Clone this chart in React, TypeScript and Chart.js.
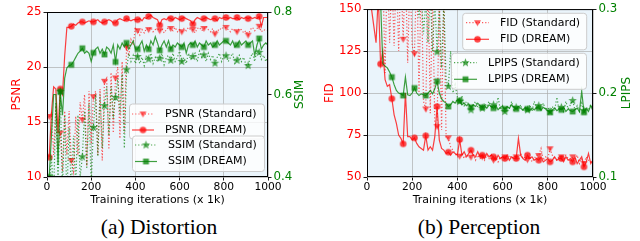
import React, { useEffect, useRef } from "react";
import { Chart, registerables } from "chart.js";

Chart.register(...registerables);

// ---------------- data ----------------
const iterations = [
  10, 20, 30, 40, 50, 60, 70, 80, 90, 100,
  110, 120, 130, 140, 150, 160, 170, 180, 190, 200,
  210, 220, 230, 240, 250, 260, 270, 280, 290, 300,
  310, 320, 330, 340, 350, 360, 370, 380, 390, 400,
  410, 420, 430, 440, 450, 460, 470, 480, 490, 500,
  510, 520, 530, 540, 550, 560, 570, 580, 590, 600,
  610, 620, 630, 640, 650, 660, 670, 680, 690, 700,
  710, 720, 730, 740, 750, 760, 770, 780, 790, 800,
  810, 820, 830, 840, 850, 860, 870, 880, 890, 900,
  910, 920, 930, 940, 950, 960, 970, 980, 990, 1000,
];

const psnrStandard = [
  15.5, 15.8, 12.0, 16.5, 12.5, 14.0, 10.5, 16.0, 12.0, 16.0,
  11.5, 10.5, 15.5, 12.0, 16.8, 15.2, 17.5, 11.0, 17.8, 13.0,
  17.3, 17.8, 12.0, 18.0, 11.5, 18.7, 19.0, 12.5, 19.5, 14.0,
  19.0, 20.0, 13.5, 20.5, 14.0, 21.8, 21.0, 22.5, 22.0, 23.6,
  23.3, 22.9, 23.4, 23.1, 23.5, 23.4, 23.6, 23.2, 23.4, 23.5,
  23.3, 23.5, 23.1, 23.4, 23.6, 23.5, 23.3, 23.6, 23.2, 23.4,
  23.2, 23.5, 23.3, 23.6, 23.4, 23.4, 23.1, 23.5, 23.6, 23.3,
  23.5, 23.7, 23.4, 23.2, 23.5, 23.0, 23.4, 23.3, 23.6, 23.5,
  23.6, 23.4, 23.2, 23.5, 23.3, 23.2, 23.5, 23.4, 23.1, 23.3,
  22.9, 23.4, 23.6, 23.3, 23.5, 23.7, 23.2, 23.4, 23.3, 23.3,
];

const psnrDream = [
  11.8, 15.8, 18.2, 18.0, 14.0, 18.0, 17.5, 21.0, 23.6, 23.6,
  23.7, 23.9, 23.8, 24.0, 24.1, 24.1, 24.0, 24.1, 24.2, 24.1,
  24.1, 24.2, 24.3, 24.1, 24.0, 24.1, 24.2, 24.3, 24.2, 24.0,
  24.0, 24.3, 24.4, 24.3, 24.2, 24.4, 24.3, 24.2, 24.3, 24.3,
  24.3, 24.4, 24.2, 24.5, 24.4, 24.6, 24.7, 24.5, 24.4, 24.3,
  23.8, 24.3, 24.4, 24.3, 24.5, 24.4, 24.3, 24.5, 24.4, 24.3,
  24.4, 24.5, 24.4, 24.3, 24.2, 23.9, 24.3, 24.5, 24.4, 24.3,
  24.4, 24.5, 24.4, 24.3, 24.4, 24.4, 24.2, 24.5, 24.4, 24.5,
  24.5, 24.4, 24.5, 24.4, 24.4, 24.5, 24.3, 24.5, 24.4, 24.5,
  24.4, 24.5, 24.4, 24.5, 24.4, 24.6, 23.7, 24.5, 24.5, 24.5,
];

const ssimStandard = [
  0.37, 0.45, 0.35, 0.58, 0.38, 0.607, 0.37, 0.55, 0.35, 0.52,
  0.36, 0.5, 0.38, 0.55, 0.4, 0.449, 0.56, 0.42, 0.58, 0.38,
  0.52, 0.6, 0.45, 0.6, 0.47, 0.573, 0.62, 0.5, 0.62, 0.55,
  0.593, 0.64, 0.55, 0.65, 0.47, 0.66, 0.7, 0.68, 0.695, 0.675,
  0.692, 0.675, 0.69, 0.67, 0.695, 0.686, 0.7, 0.675, 0.69, 0.68,
  0.688, 0.7, 0.672, 0.69, 0.695, 0.683, 0.7, 0.68, 0.69, 0.705,
  0.68, 0.69, 0.675, 0.7, 0.685, 0.692, 0.7, 0.68, 0.705, 0.69,
  0.696, 0.68, 0.7, 0.685, 0.695, 0.676, 0.69, 0.7, 0.68, 0.695,
  0.694, 0.68, 0.69, 0.7, 0.675, 0.683, 0.695, 0.68, 0.69, 0.672,
  0.67, 0.69, 0.7, 0.68, 0.71, 0.702, 0.685, 0.695, 0.68, 0.69,
];

const ssimDream = [
  0.4, 0.5, 0.6, 0.6, 0.43, 0.607, 0.55, 0.64, 0.665, 0.67,
  0.672, 0.68, 0.69, 0.7, 0.705, 0.712, 0.7, 0.705, 0.7, 0.68,
  0.701, 0.71, 0.715, 0.7, 0.71, 0.697, 0.715, 0.71, 0.7, 0.72,
  0.679, 0.72, 0.71, 0.725, 0.715, 0.725, 0.71, 0.72, 0.73, 0.71,
  0.71, 0.72, 0.73, 0.705, 0.72, 0.71, 0.73, 0.72, 0.74, 0.725,
  0.707, 0.72, 0.73, 0.715, 0.73, 0.71, 0.72, 0.715, 0.725, 0.72,
  0.715, 0.725, 0.7, 0.72, 0.725, 0.72, 0.73, 0.715, 0.725, 0.72,
  0.715, 0.73, 0.72, 0.725, 0.715, 0.72, 0.73, 0.72, 0.725, 0.73,
  0.73, 0.725, 0.72, 0.73, 0.715, 0.72, 0.73, 0.72, 0.725, 0.73,
  0.72, 0.725, 0.73, 0.695, 0.72, 0.736, 0.71, 0.72, 0.725, 0.72,
];

const fidStandard = [
  175, 165, 178, 155, 170, 160, 172, 112, 178, 130,
  170, 128, 176, 125, 172, 132, 176, 118, 170, 128,
  123.4, 176, 100, 172, 95, 90.5, 168, 88, 162, 82,
  80, 160, 78, 156, 73, 73.3, 68, 66, 64, 62,
  62.4, 64, 61, 63, 62, 61.8, 64, 60, 63, 61,
  62, 60, 63, 61, 64, 60, 62, 59, 62, 61,
  62, 60, 63, 61, 62, 62, 60, 64, 61, 62,
  60.3, 62, 59, 61, 63, 62.8, 67, 60, 62, 61,
  66.8, 63, 61, 60, 62, 62, 60, 63, 61, 59,
  62, 60, 63, 58, 61, 58, 62, 60, 59, 61,
];

const fidDream = [
  165, 150, 140, 130, 158, 117.3, 125, 108, 104, 105,
  96.6, 87, 82, 75, 73, 69.7, 100, 74, 74, 72,
  73.3, 70, 68, 67, 66, 74.6, 66, 68, 66, 74,
  92, 72, 67, 66, 64, 64.8, 63, 65, 64, 63,
  72.3, 63, 65, 62, 64, 66, 63, 62, 65, 62,
  63, 61, 64, 62, 63, 62, 60, 63, 61, 62,
  61, 63, 60, 62, 61, 61, 73, 63, 61, 60,
  63, 61, 62, 60, 61, 60, 62, 59, 60, 61,
  59, 60, 62, 60, 61, 61, 59, 62, 60, 61,
  59, 62, 58, 60, 62, 56, 59, 64, 58, 60,
];

const lpipsStandard = [
  0.36, 0.38, 0.34, 0.37, 0.35, 0.39, 0.34, 0.36, 0.33, 0.37,
  0.34, 0.36, 0.33, 0.35, 0.34, 0.36, 0.33, 0.35, 0.32, 0.34,
  0.33, 0.33, 0.29, 0.32, 0.27, 0.31, 0.26, 0.32, 0.25, 0.31,
  0.249, 0.3, 0.23, 0.31, 0.215, 0.208, 0.25, 0.2, 0.21, 0.195,
  0.19, 0.197, 0.185, 0.19, 0.187, 0.18, 0.186, 0.19, 0.183, 0.186,
  0.182, 0.188, 0.184, 0.19, 0.182, 0.186, 0.182, 0.195, 0.18, 0.185,
  0.178, 0.184, 0.181, 0.19, 0.179, 0.183, 0.18, 0.186, 0.178, 0.182,
  0.18, 0.186, 0.178, 0.19, 0.182, 0.185, 0.179, 0.188, 0.18, 0.183,
  0.178, 0.184, 0.179, 0.195, 0.18, 0.183, 0.178, 0.19, 0.181, 0.186,
  0.191, 0.18, 0.185, 0.178, 0.188, 0.179, 0.183, 0.18, 0.186, 0.182,
];

const lpipsDream = [
  0.35, 0.34, 0.33, 0.32, 0.31, 0.31, 0.235, 0.232, 0.23, 0.225,
  0.219, 0.21, 0.203, 0.2, 0.199, 0.197, 0.219, 0.198, 0.197, 0.2,
  0.206, 0.2, 0.197, 0.199, 0.198, 0.197, 0.2, 0.203, 0.199, 0.205,
  0.214, 0.2, 0.193, 0.19, 0.188, 0.184, 0.186, 0.19, 0.188, 0.192,
  0.191, 0.186, 0.188, 0.185, 0.187, 0.183, 0.186, 0.184, 0.188, 0.185,
  0.183, 0.185, 0.182, 0.186, 0.184, 0.182, 0.185, 0.18, 0.183, 0.184,
  0.181, 0.184, 0.182, 0.186, 0.183, 0.181, 0.184, 0.182, 0.18, 0.183,
  0.181, 0.179, 0.182, 0.18, 0.183, 0.182, 0.18, 0.183, 0.181, 0.179,
  0.177, 0.18, 0.182, 0.179, 0.181, 0.18, 0.183, 0.178, 0.181, 0.179,
  0.178, 0.18, 0.182, 0.178, 0.202, 0.177, 0.182, 0.178, 0.185, 0.179,
];

const xTicks = [0, 200, 400, 600, 800, 1000];
const psnrTicks = [10, 15, 20, 25];
const ssimTicks = [0.4, 0.6, 0.8];
const fidTicks = [50, 75, 100, 125, 150];
const lpipsTicks = [0.1, 0.2, 0.3];

// ---------------- styles ----------------
const FONT = '"DejaVu Sans", sans-serif';
const RED = "rgba(255,0,0,0.75)";
const RED_DOT = "rgba(255,0,0,0.65)";
const GREEN = "rgba(0,128,0,0.75)";
const GREEN_DOT = "rgba(0,128,0,0.7)";
const GRID = "rgba(170,170,170,0.85)";
const BG = "#eaf4fb";

function makeMarker(shape: string, color: string, size: number) {
  const c = document.createElement("canvas");
  const s = Math.ceil(size) + 2;
  c.width = s;
  c.height = s;
  const g = c.getContext("2d")!;
  g.fillStyle = color;
  const cx = s / 2, cy = s / 2, r = size / 2;
  g.beginPath();
  if (shape === "circle") g.arc(cx, cy, r, 0, Math.PI * 2);
  else if (shape === "square") g.rect(cx - r * 0.9, cy - r * 0.9, r * 1.8, r * 1.8);
  else if (shape === "tri") {
    g.moveTo(cx - r, cy - r * 0.7);
    g.lineTo(cx + r, cy - r * 0.7);
    g.lineTo(cx, cy + r);
    g.closePath();
  } else if (shape === "star") {
    for (let k = 0; k < 10; k++) {
      const a = -Math.PI / 2 + (k * Math.PI) / 5;
      const rr = k % 2 === 0 ? r : r * 0.42;
      const px = cx + rr * Math.cos(a), py = cy + rr * Math.sin(a);
      if (k === 0) g.moveTo(px, py);
      else g.lineTo(px, py);
    }
    g.closePath();
  }
  g.fill();
  return c;
}

const pts = (vals: number[]) => vals.map((v, i) => ({ x: iterations[i], y: v }));
const every5 = (ctx: any) => (ctx.dataIndex % 5 === 0 ? 3 : 0);

const panelPlugin = {
  id: "panel",
  beforeDraw(chart: any) {
    const { ctx, chartArea: a } = chart;
    ctx.save();
    ctx.fillStyle = BG;
    ctx.fillRect(a.left, a.top, a.right - a.left, a.bottom - a.top);
    ctx.restore();
  },
  afterDatasetsDraw(chart: any, _args: any, opts: any) {
    const { ctx, chartArea: a } = chart;
    ctx.save();
    ctx.strokeStyle = "#000";
    ctx.lineWidth = 1;
    ctx.strokeRect(a.left + 0.5, a.top + 0.5, a.right - a.left - 1, a.bottom - a.top - 1);
    ctx.restore();

    for (const box of opts.legends || []) {
      ctx.save();
      const { x, y, w, h } = box;
      const r = 3;
      ctx.beginPath();
      ctx.moveTo(x + r, y);
      ctx.lineTo(x + w - r, y);
      ctx.quadraticCurveTo(x + w, y, x + w, y + r);
      ctx.lineTo(x + w, y + h - r);
      ctx.quadraticCurveTo(x + w, y + h, x + w - r, y + h);
      ctx.lineTo(x + r, y + h);
      ctx.quadraticCurveTo(x, y + h, x, y + h - r);
      ctx.lineTo(x, y + r);
      ctx.quadraticCurveTo(x, y, x + r, y);
      ctx.closePath();
      ctx.fillStyle = "rgba(255,255,255,0.8)";
      ctx.fill();
      ctx.strokeStyle = "#cccccc";
      ctx.lineWidth = 1;
      ctx.stroke();
      for (const it of box.items) {
        const ds = chart.data.datasets[it.index];
        ctx.beginPath();
        ctx.setLineDash(ds.borderDash || []);
        ctx.strokeStyle = ds.borderColor;
        ctx.lineWidth = ds.borderWidth;
        ctx.moveTo(box.lineX0, it.y);
        ctx.lineTo(box.lineX1, it.y);
        ctx.stroke();
        ctx.setLineDash([]);
        const img = ds.pointStyle;
        ctx.drawImage(img, (box.lineX0 + box.lineX1) / 2 - img.width / 2, it.y - img.height / 2);
        ctx.fillStyle = "#000";
        ctx.font = `11px ${FONT}`;
        ctx.textAlign = "left";
        ctx.textBaseline = "middle";
        ctx.fillText(ds.label, box.textX, it.y);
      }
      ctx.restore();
    }

    const rt = opts.rightTitle;
    if (rt) {
      ctx.save();
      ctx.translate(rt.x, (a.top + a.bottom) / 2);
      ctx.rotate(-Math.PI / 2);
      ctx.textAlign = "center";
      ctx.textBaseline = "middle";
      ctx.font = `12px ${FONT}`;
      ctx.fillStyle = rt.color;
      ctx.fillText(rt.text, 0, 0);
      ctx.restore();
    }
  },
};

const gridOpts = (onArea: boolean) => ({
  display: true,
  drawOnChartArea: onArea,
  color: GRID,
  lineWidth: 0.8,
  borderDash: [3.5, 2],
  drawTicks: true,
  tickLength: 3.5,
  tickColor: "#000",
  tickWidth: 0.9,
  tickBorderDash: [],
});

const xScale = () => ({
  type: "linear",
  min: 0,
  max: 1000,
  afterBuildTicks: (s: any) => {
    s.ticks = xTicks.map((v) => ({ value: v }));
  },
  ticks: {
    color: "#000",
    font: { family: FONT, size: 10.7 },
    padding: 0,
    maxRotation: 0,
    autoSkip: false,
    callback: (v: number) => String(v),
  },
  grid: gridOpts(true),
  border: { display: false },
  title: {
    display: true,
    text: "Training iterations (x 1k)",
    color: "#000",
    font: { family: FONT, size: 11 },
    padding: { top: 0, bottom: 0 },
  },
  afterFit: (s: any) => {
    s.height = 30;
  },
});

const yScale = (
  pos: string,
  min: number,
  max: number,
  tickVals: number[],
  color: string,
  width: number,
  onArea: boolean,
  title: string | null,
  titlePad: number,
  fmt: (v: number) => string
) => ({
  type: "linear",
  position: pos,
  min,
  max,
  afterBuildTicks: (s: any) => {
    s.ticks = tickVals.map((v) => ({ value: v }));
  },
  ticks: { color, font: { family: FONT, size: 11.8 }, padding: 2, callback: (v: number) => fmt(v) },
  grid: gridOpts(onArea),
  border: { display: false },
  title: title
    ? { display: true, text: title, color, font: { family: FONT, size: 12 }, padding: { top: titlePad, bottom: 0 } }
    : { display: false },
  afterFit: (s: any) => {
    s.width = width;
  },
});

function lineDs(label: string, vals: number[], axis: string, color: string, dotted: boolean, marker: any, order: number) {
  return {
    label,
    data: pts(vals),
    yAxisID: axis,
    borderColor: color,
    backgroundColor: color,
    borderWidth: 1.2,
    borderDash: dotted ? [1.2, 2] : [],
    pointStyle: marker,
    pointRadius: every5,
    pointHoverRadius: 0,
    tension: 0,
    fill: false,
    order,
  };
}

export default function App() {
  const leftRef = useRef<HTMLCanvasElement>(null);
  const rightRef = useRef<HTMLCanvasElement>(null);

  useEffect(() => {
    const triR = makeMarker("tri", RED_DOT, 7);
    const cirR = makeMarker("circle", RED, 6.5);
    const starG = makeMarker("star", GREEN_DOT, 9);
    const sqG = makeMarker("square", GREEN, 6.5);

    const common = {
      responsive: false,
      animation: false,
      devicePixelRatio: 1,
      events: [],
      plugins: { legend: { display: false }, tooltip: { enabled: false } },
    };

    const left = new Chart(leftRef.current!, {
      type: "line",
      data: {
        datasets: [
          lineDs("PSNR (Standard)", psnrStandard, "y", RED_DOT, true, triR, 3),
          lineDs("PSNR (DREAM)", psnrDream, "y", RED, false, cirR, 2),
          lineDs("SSIM (Standard)", ssimStandard, "y1", GREEN_DOT, true, starG, 1),
          lineDs("SSIM (DREAM)", ssimDream, "y1", GREEN, false, sqG, 0),
        ],
      },
      options: {
        ...common,
        layout: { padding: { top: 12, left: 0, right: 0, bottom: 0 } },
        scales: {
          x: xScale(),
          y: yScale("left", 10, 25, psnrTicks, "#ff0000", 47, true, "PSNR", 10, (v) => String(v)),
          y1: yScale("right", 0.4, 0.8, ssimTicks, "#008000", 52, false, null, 0, (v) => v.toFixed(1)),
        },
        plugins: {
          ...common.plugins,
          panel: {
            legends: [
              {
                x: 129.5, y: 104, w: 135, h: 35, lineX0: 132, lineX1: 154, textX: 165,
                items: [{ index: 0, y: 114 }, { index: 1, y: 130 }],
              },
              {
                x: 132.5, y: 136, w: 132, h: 35.5, lineX0: 135, lineX1: 157, textX: 168,
                items: [{ index: 2, y: 145 }, { index: 3, y: 161.5 }],
              },
            ],
            rightTitle: { text: "SSIM", x: 300, color: "#008000" },
          },
        },
      } as any,
      plugins: [panelPlugin],
    } as any);

    const right = new Chart(rightRef.current!, {
      type: "line",
      data: {
        datasets: [
          lineDs("FID (Standard)", fidStandard, "y", RED_DOT, true, triR, 3),
          lineDs("FID (DREAM)", fidDream, "y", RED, false, cirR, 2),
          lineDs("LPIPS (Standard)", lpipsStandard, "y1", GREEN_DOT, true, starG, 1),
          lineDs("LPIPS (DREAM)", lpipsDream, "y1", GREEN, false, sqG, 0),
        ],
      },
      options: {
        ...common,
        layout: { padding: { top: 7, left: 0, right: 0, bottom: 0 } },
        scales: {
          x: xScale(),
          y: yScale("left", 50, 150, fidTicks, "#ff0000", 47, true, "FID", 2.3, (v) => String(v)),
          y1: yScale("right", 0.1, 0.3, lpipsTicks, "#008000", 47, false, null, 0, (v) => v.toFixed(1)),
        },
        plugins: {
          ...common.plugins,
          panel: {
            legends: [
              {
                x: 142.7, y: 13.3, w: 124, h: 36.5, lineX0: 146, lineX1: 169, textX: 180,
                items: [{ index: 0, y: 22.7 }, { index: 1, y: 39.3 }],
              },
              {
                x: 131.5, y: 53.3, w: 135, h: 36, lineX0: 134, lineX1: 157, textX: 168,
                items: [{ index: 2, y: 62.7 }, { index: 3, y: 79.3 }],
              },
            ],
            rightTitle: { text: "LPIPS", x: 306.7, color: "#008000" },
          },
        },
      } as any,
      plugins: [panelPlugin],
    } as any);

    return () => {
      left.destroy();
      right.destroy();
    };
  }, []);

  const caption: React.CSSProperties = {
    position: "absolute",
    top: 217,
    width: 320,
    textAlign: "center",
    fontFamily: '"Liberation Serif", "Times New Roman", serif',
    fontSize: "21.5px",
    lineHeight: "21.5px",
    color: "#000",
    whiteSpace: "nowrap",
  };

  return (
    <div style={{ position: "absolute", left: 0, top: 0, width: 640, height: 241, background: "#fff", overflow: "hidden" }}>
      <canvas ref={leftRef} width={320} height={207} style={{ position: "absolute", left: 0, top: 0, display: "block" }} />
      <canvas ref={rightRef} width={320} height={207} style={{ position: "absolute", left: 320, top: 0, display: "block" }} />
      <div style={{ ...caption, left: -1 }}>(a) Distortion</div>
      <div style={{ ...caption, left: 319 }}>(b) Perception</div>
    </div>
  );
}
